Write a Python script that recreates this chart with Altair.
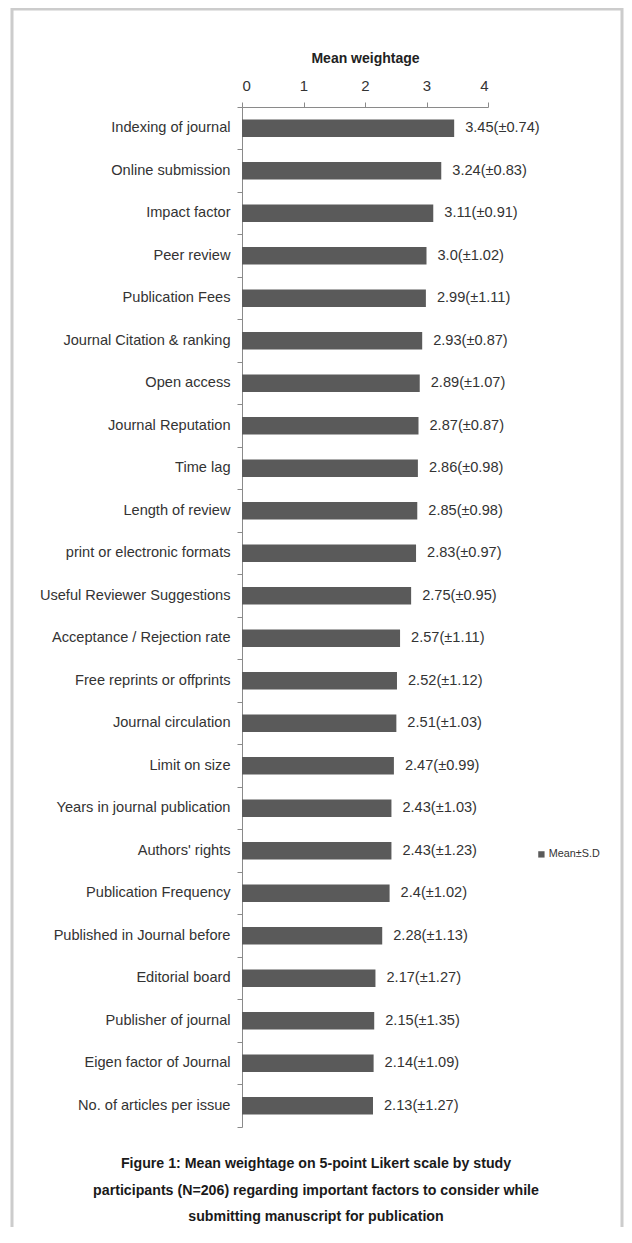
import altair as alt
import pandas as pd

factors = [
    "Indexing of journal", "Online submission ", "Impact factor ", "Peer review",
    "Publication Fees", "Journal Citation & ranking", "Open access",
    "Journal Reputation", "Time lag", "Length of review",
    "print or electronic formats", "Useful Reviewer Suggestions",
    "Acceptance / Rejection rate", "Free reprints or offprints",
    "Journal circulation", "Limit on size ", "Years in journal publication",
    "Authors' rights", "Publication Frequency", "Published in Journal before",
    "Editorial board", "Publisher of journal", "Eigen factor of Journal",
    "No. of articles per issue",
]
means = [3.45, 3.24, 3.11, 3.0, 2.99, 2.93, 2.89, 2.87, 2.86, 2.85, 2.83, 2.75,
         2.57, 2.52, 2.51, 2.47, 2.43, 2.43, 2.4, 2.28, 2.17, 2.15, 2.14, 2.13]
sds = [0.74, 0.83, 0.91, 1.02, 1.11, 0.87, 1.07, 0.87, 0.98, 0.98, 0.97, 0.95,
       1.11, 1.12, 1.03, 0.99, 1.03, 1.23, 1.02, 1.13, 1.27, 1.35, 1.09, 1.27]
x_ticks = [0, 1, 2, 3, 4]
series_name = "Mean±S.D"
caption = [
    "Figure 1:  Mean weightage on 5-point Likert scale by study",
    "participants (N=206) regarding important factors to consider while",
    "submitting manuscript for publication",
]

labels = [f"{m}(±{s:.2f})" for m, s in zip(means, sds)]
df = pd.DataFrame({
    "factor": factors,
    "mean": means,
    "label": labels,
    "series": [series_name] * len(factors),
})

FONT = "Liberation Sans, Arial, Helvetica, sans-serif"
BAR = "#5a5a5a"
TXT = "#333333"
AX = "#8a8a8a"

y_enc = alt.Y(
    "factor:N", sort=factors,
    scale=alt.Scale(paddingInner=0, paddingOuter=0),
    axis=alt.Axis(title=None, labelFont=FONT, labelFontSize=14.6, labelColor=TXT,
                  labelPadding=7, tickSize=5, tickColor=AX, domainColor=AX,
                  bandPosition=1, tickExtra=True, labelLimit=400),
)
x_enc = alt.X(
    "mean:Q",
    scale=alt.Scale(domain=[0, 4], nice=False),
    axis=alt.Axis(orient="top", values=x_ticks, format="d", grid=False,
                  title="Mean weightage", titleFont=FONT, titleFontSize=14,
                  titleFontWeight="bold", titleColor="#222222", titlePadding=13,
                  labelFont=FONT, labelFontSize=15, labelColor=TXT,
                  labelPadding=9, tickSize=5, tickColor=AX, domainColor=AX),
)

bars = alt.Chart(df).mark_bar(height=alt.RelativeBandSize(0.41)).encode(
    x=x_enc, y=y_enc,
    color=alt.Color("series:N", scale=alt.Scale(range=[BAR]),
                    legend=alt.Legend(title=None, orient="none", legendX=294,
                                      legendY=742, symbolType="square",
                                      symbolSize=40, symbolStrokeWidth=0,
                                      labelFont=FONT, labelFontSize=10.8,
                                      labelColor=TXT, labelOffset=2)),
)

values = alt.Chart(df).mark_text(align="left", baseline="middle", dx=11,
                                 font=FONT, fontSize=14.6, color=TXT).encode(
    x="mean:Q", y=alt.Y("factor:N", sort=factors), text="label:N",
)

one = pd.DataFrame({"k": [0]})
frame = alt.Chart(one).mark_rect(filled=False, stroke="#cccccc",
                                 strokeWidth=3).encode(
    x=alt.value(-230), x2=alt.value(380), y=alt.value(-98), y2=alt.value(1250),
)

cap = alt.Chart(one).mark_text(text=caption, font=FONT, fontSize=14.2,
                               fontWeight="bold", color="#1a1a1a",
                               align="center", baseline="top",
                               lineHeight=26.5).encode(
    x=alt.value(74), y=alt.value(1050),
)

chart = alt.layer(frame, bars, values, cap).properties(
    width=246, height=1020,
    autosize=alt.AutoSizeParams(type="none"),
    padding={"left": 234, "top": 99, "right": 136, "bottom": 100},
).configure_view(stroke=None)

chart.save("out.html", embed_options={"renderer": "svg", "actions": False})
